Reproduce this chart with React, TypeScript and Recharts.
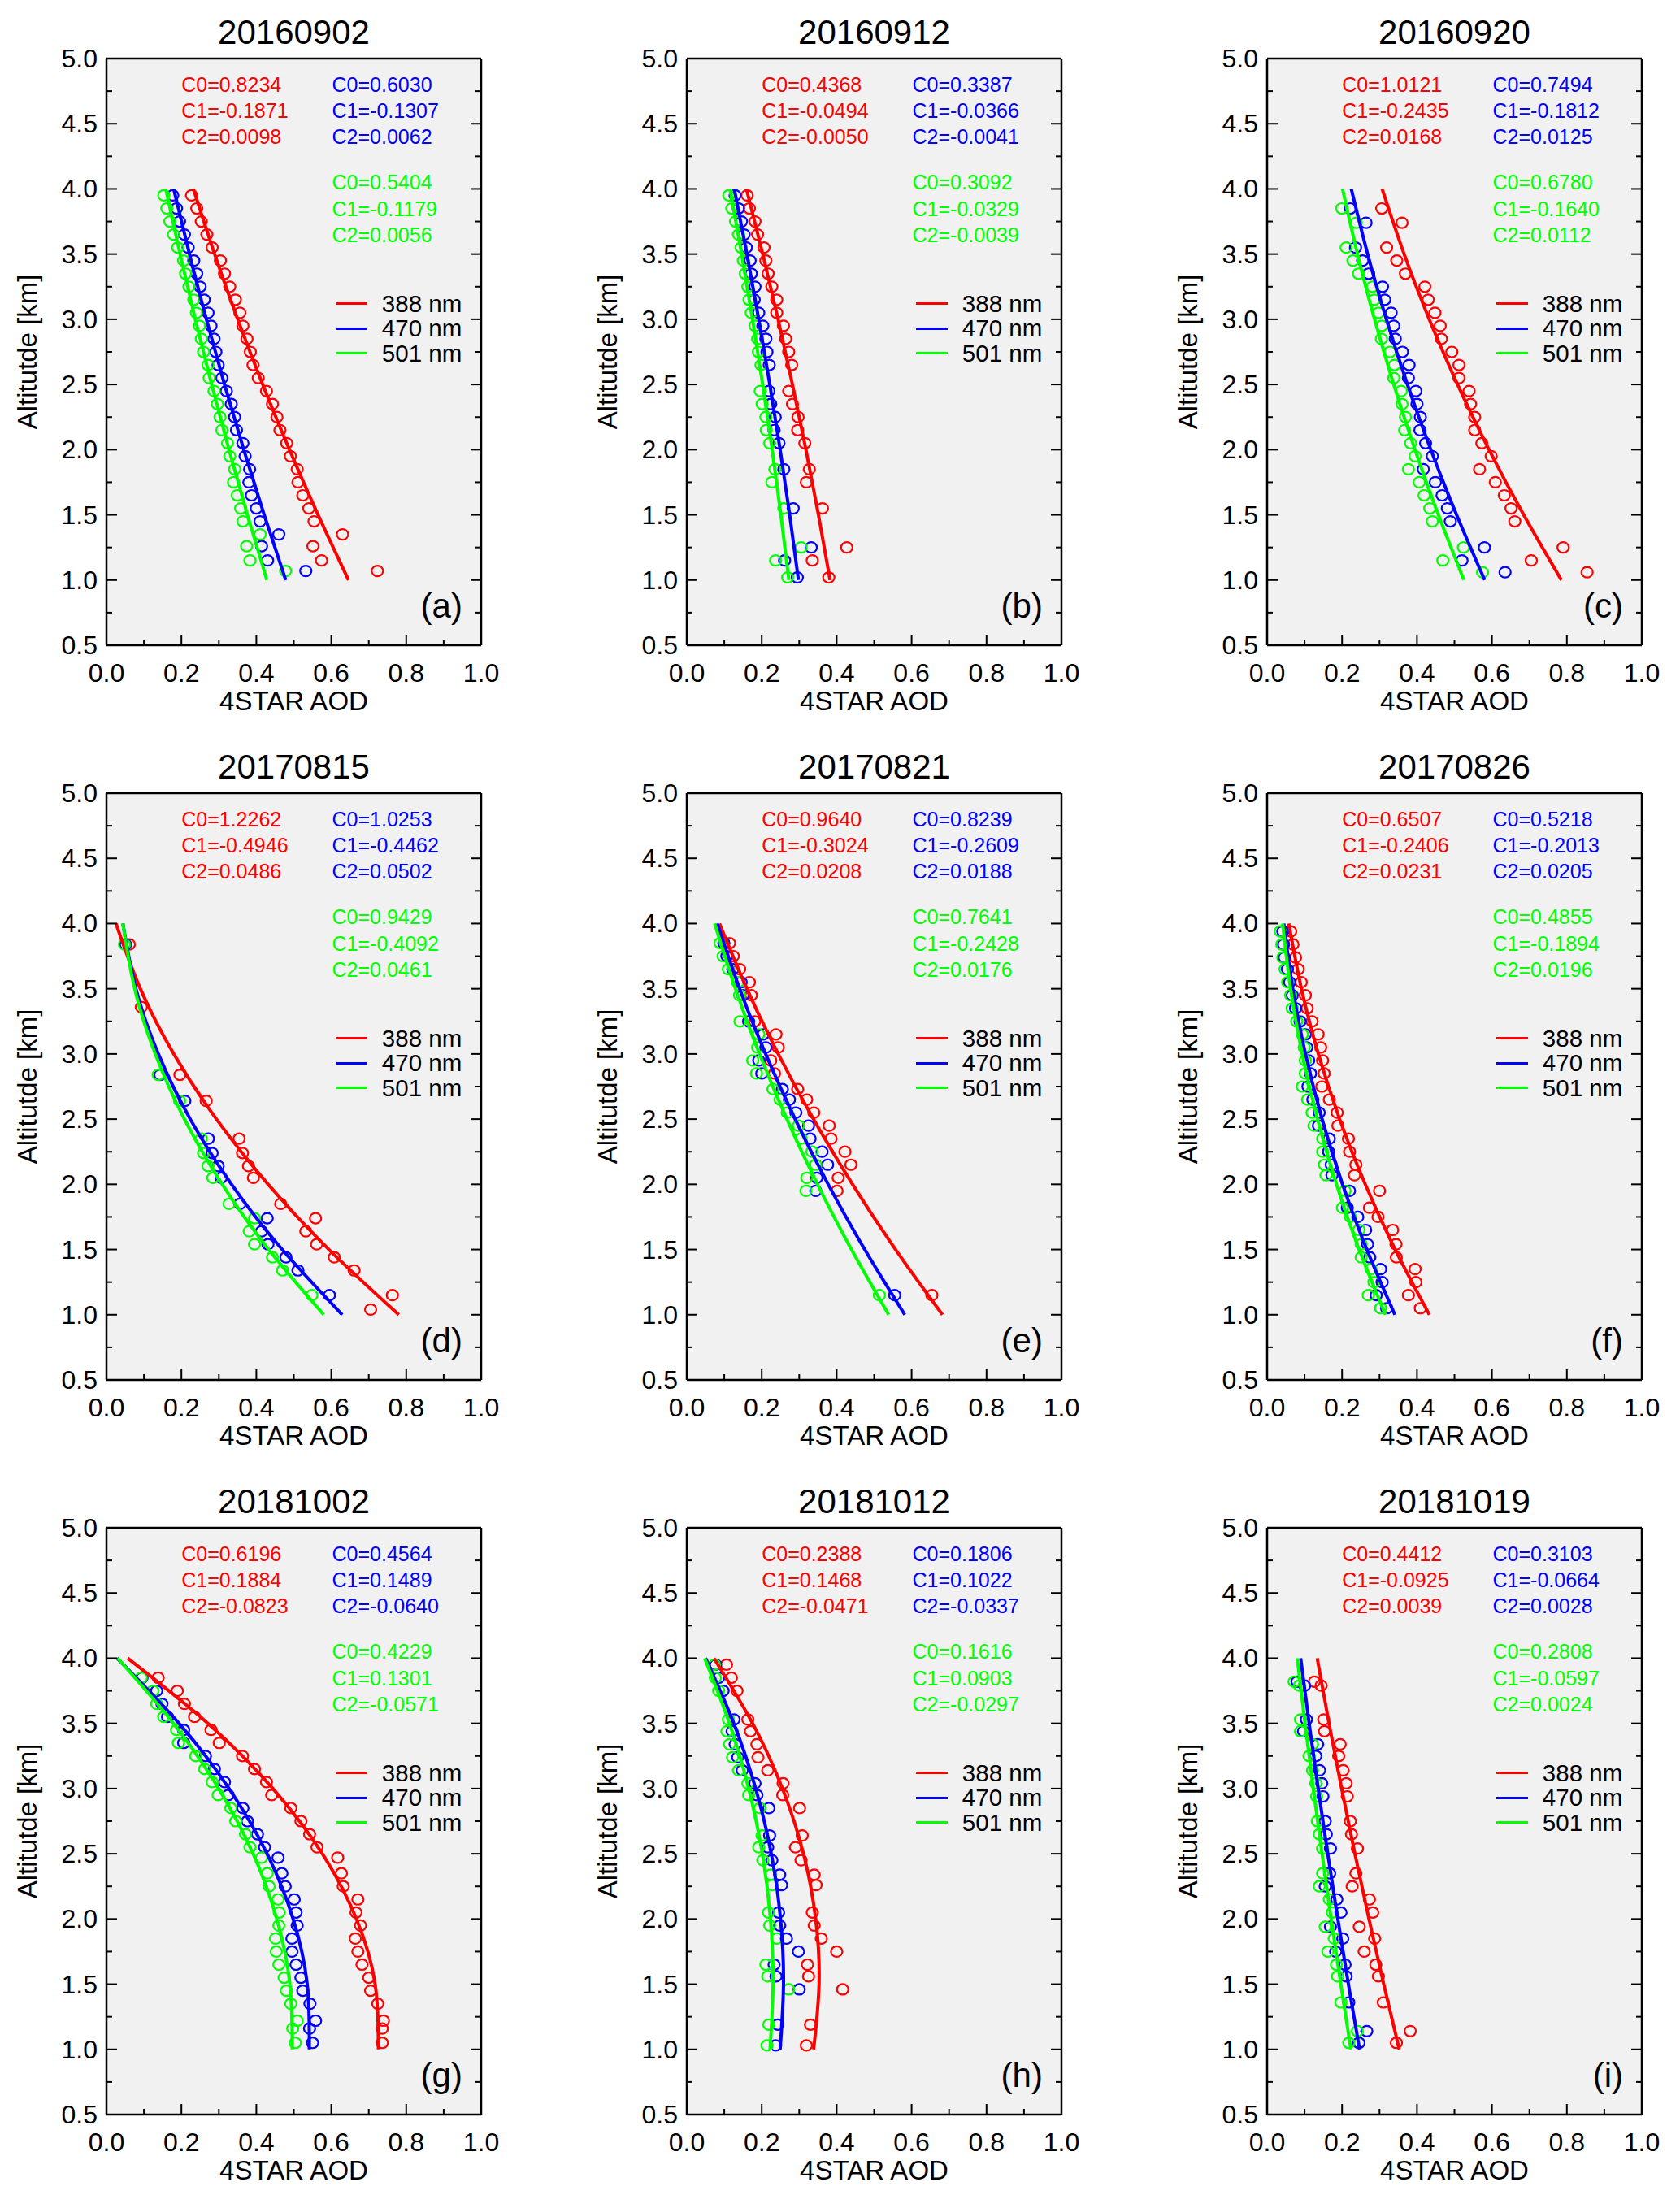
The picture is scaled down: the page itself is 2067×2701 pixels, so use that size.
import React from 'react';
import { ScatterChart, Scatter, XAxis, YAxis } from 'recharts';

const RED = '#ff0000';
const BLUE = '#0000ff';
const GREEN = '#00ff00';
const COLORS = [RED, BLUE, GREEN];

const DATES = ['20160902', '20160912', '20160920', '20170815', '20170821', '20170826', '20181002', '20181012', '20181019'];
const PANEL_TAGS = ['(a)', '(b)', '(c)', '(d)', '(e)', '(f)', '(g)', '(h)', '(i)'];
const BANDS = ['388 nm', '470 nm', '501 nm'];
const X_TICKS = [0, 0.1, 0.2, 0.3, 0.4, 0.5, 0.6, 0.7, 0.8, 0.9, 1.0];
const Y_TICKS = [0.5, 0.75, 1, 1.25, 1.5, 1.75, 2, 2.25, 2.5, 2.75, 3, 3.25, 3.5, 3.75, 4, 4.25, 4.5, 4.75, 5];
const FIT_ALT = [1.0, 1.5, 2.0, 2.5, 3.0, 3.5, 4.0];

// fit coefficients printed in each panel (C0, C1, C2)
const COEF_388 = [
  [0.8234, -0.1871, 0.0098], [0.4368, -0.0494, -0.0050], [1.0121, -0.2435, 0.0168],
  [1.2262, -0.4946, 0.0486], [0.9640, -0.3024, 0.0208], [0.6507, -0.2406, 0.0231],
  [0.6196, 0.1884, -0.0823], [0.2388, 0.1468, -0.0471], [0.4412, -0.0925, 0.0039],
];
const COEF_470 = [
  [0.6030, -0.1307, 0.0062], [0.3387, -0.0366, -0.0041], [0.7494, -0.1812, 0.0125],
  [1.0253, -0.4462, 0.0502], [0.8239, -0.2609, 0.0188], [0.5218, -0.2013, 0.0205],
  [0.4564, 0.1489, -0.0640], [0.1806, 0.1022, -0.0337], [0.3103, -0.0664, 0.0028],
];
const COEF_501 = [
  [0.5404, -0.1179, 0.0056], [0.3092, -0.0329, -0.0039], [0.6780, -0.1640, 0.0112],
  [0.9429, -0.4092, 0.0461], [0.7641, -0.2428, 0.0176], [0.4855, -0.1894, 0.0196],
  [0.4229, 0.1301, -0.0571], [0.1616, 0.0903, -0.0297], [0.2808, -0.0597, 0.0024],
];

// ---- observed profiles (altitude km, AOD per band) ----
const ALT_A = [3.95, 3.85, 3.75, 3.65, 3.55, 3.45, 3.35, 3.25, 3.15, 3.05, 2.95, 2.85, 2.75, 2.65, 2.55, 2.45, 2.35, 2.25, 2.15, 2.05, 1.95, 1.85, 1.75, 1.65, 1.55, 1.45, 1.35, 1.26, 1.15, 1.07];
const AOD388_A = [0.227, 0.241, 0.253, 0.268, 0.282, 0.304, 0.315, 0.329, 0.344, 0.356, 0.364, 0.375, 0.384, 0.391, 0.405, 0.427, 0.443, 0.455, 0.463, 0.481, 0.491, 0.509, 0.511, 0.524, 0.540, 0.554, 0.630, 0.551, 0.574, 0.723];
const AOD470_A = [0.177, 0.187, 0.195, 0.208, 0.218, 0.233, 0.241, 0.250, 0.261, 0.271, 0.279, 0.287, 0.292, 0.298, 0.308, 0.320, 0.333, 0.342, 0.347, 0.364, 0.370, 0.382, 0.380, 0.387, 0.400, 0.410, 0.460, 0.414, 0.430, 0.532];
const AOD501_A = [0.153, 0.161, 0.169, 0.179, 0.190, 0.206, 0.211, 0.220, 0.233, 0.240, 0.248, 0.253, 0.259, 0.271, 0.274, 0.287, 0.296, 0.303, 0.308, 0.323, 0.329, 0.342, 0.339, 0.349, 0.358, 0.364, 0.410, 0.374, 0.383, 0.478];

const ALT_B = [3.95, 3.85, 3.75, 3.65, 3.55, 3.45, 3.35, 3.25, 3.15, 3.05, 2.95, 2.85, 2.75, 2.65, 2.45, 2.35, 2.25, 2.15, 2.05, 1.85, 1.75, 1.55, 1.25, 1.15, 1.02];
const AOD388_B = [0.161, 0.167, 0.182, 0.189, 0.206, 0.211, 0.217, 0.227, 0.240, 0.240, 0.258, 0.264, 0.272, 0.280, 0.272, 0.282, 0.297, 0.296, 0.315, 0.327, 0.319, 0.362, 0.427, 0.335, 0.379];
const AOD470_B = [0.129, 0.138, 0.146, 0.153, 0.159, 0.169, 0.172, 0.182, 0.180, 0.192, 0.203, 0.211, 0.214, 0.220, 0.219, 0.224, 0.236, 0.233, 0.246, 0.259, null, 0.284, 0.332, 0.261, 0.295];
const AOD501_B = [0.112, 0.120, 0.130, 0.138, 0.145, 0.151, 0.156, 0.163, 0.166, 0.172, 0.182, 0.189, 0.191, 0.198, 0.196, 0.201, 0.211, 0.212, 0.221, 0.235, 0.227, 0.259, 0.305, 0.237, 0.269];

const ALT_C = [3.85, 3.74, 3.55, 3.45, 3.35, 3.25, 3.15, 3.05, 2.95, 2.85, 2.75, 2.65, 2.55, 2.45, 2.35, 2.25, 2.15, 2.05, 1.95, 1.85, 1.75, 1.65, 1.55, 1.45, 1.25, 1.15, 1.06];
const AOD388_C = [0.306, 0.360, 0.319, 0.346, 0.369, 0.421, 0.430, 0.448, 0.462, 0.465, 0.493, 0.512, 0.512, 0.539, 0.543, 0.554, 0.554, 0.573, 0.598, 0.567, 0.609, 0.633, 0.651, 0.661, 0.790, 0.705, 0.854];
const AOD470_C = [0.222, 0.264, 0.236, 0.255, 0.271, 0.308, 0.314, 0.331, 0.338, 0.342, 0.361, 0.379, 0.377, 0.397, 0.400, 0.409, 0.408, 0.423, 0.441, 0.417, 0.449, 0.467, 0.481, 0.489, 0.580, 0.520, 0.635];
const AOD501_C = [0.199, 0.238, 0.211, 0.229, 0.244, 0.281, 0.286, 0.297, 0.306, 0.305, 0.328, 0.340, 0.338, 0.358, 0.360, 0.369, 0.367, 0.383, 0.395, 0.377, 0.406, 0.419, 0.434, 0.441, 0.524, 0.469, 0.575];

const ALT_D = [3.84, 3.36, 2.84, 2.64, 2.35, 2.24, 2.14, 2.05, 1.85, 1.74, 1.64, 1.54, 1.44, 1.34, 1.15, 1.04];
const AOD388_D = [0.061, 0.093, 0.196, 0.266, 0.354, 0.363, 0.379, 0.392, 0.465, 0.558, 0.532, 0.561, 0.608, 0.661, 0.763, 0.705];
const AOD470_D = [0.051, null, 0.143, 0.209, 0.272, 0.282, 0.298, 0.306, 0.356, 0.429, 0.414, 0.431, 0.479, 0.511, 0.595, null];
const AOD501_D = [0.048, null, 0.138, 0.195, 0.253, 0.259, 0.271, 0.284, 0.327, 0.395, 0.381, 0.395, 0.443, 0.470, 0.548, null];

const ALT_E = [3.85, 3.75, 3.65, 3.55, 3.45, 3.25, 3.15, 3.05, 2.95, 2.85, 2.73, 2.65, 2.55, 2.45, 2.35, 2.25, 2.15, 2.05, 1.95, 1.15];
const AOD388_E = [0.114, 0.124, 0.141, 0.167, 0.172, 0.181, 0.238, 0.244, 0.224, 0.234, 0.296, 0.320, 0.339, 0.380, 0.385, 0.422, 0.438, 0.404, 0.401, 0.654];
const AOD470_E = [0.099, 0.107, 0.123, 0.145, 0.150, 0.165, 0.204, 0.211, 0.192, 0.200, 0.255, 0.274, 0.291, 0.325, 0.329, 0.361, 0.376, 0.347, 0.344, 0.555];
const AOD501_E = [0.089, 0.097, 0.111, 0.136, 0.141, 0.142, 0.192, 0.189, 0.176, 0.186, 0.230, 0.249, 0.268, 0.298, 0.305, 0.334, 0.344, 0.320, 0.318, 0.514];

const ALT_F = [3.94, 3.84, 3.74, 3.65, 3.55, 3.45, 3.35, 3.25, 3.15, 3.05, 2.95, 2.85, 2.75, 2.65, 2.55, 2.45, 2.35, 2.25, 2.15, 2.07, 1.95, 1.82, 1.75, 1.65, 1.54, 1.44, 1.35, 1.25, 1.15, 1.05];
const AOD388_F = [0.063, 0.069, 0.076, 0.083, 0.091, 0.102, 0.107, 0.120, 0.136, 0.143, 0.148, 0.152, 0.146, 0.166, 0.187, 0.189, 0.217, 0.220, 0.237, 0.233, 0.300, 0.273, 0.296, 0.335, 0.344, 0.345, 0.395, 0.397, 0.377, 0.409];
const AOD470_F = [0.042, 0.044, 0.046, 0.054, 0.060, 0.067, 0.076, 0.088, 0.102, 0.106, 0.111, 0.116, 0.109, 0.122, 0.139, 0.137, 0.166, 0.164, 0.171, 0.173, 0.220, 0.214, 0.242, 0.263, 0.268, 0.274, 0.303, 0.307, 0.291, 0.319];
const AOD501_F = [0.035, 0.039, 0.042, 0.048, 0.055, 0.063, 0.067, 0.079, 0.094, 0.099, 0.102, 0.102, 0.094, 0.108, 0.120, 0.125, 0.148, 0.148, 0.153, 0.157, 0.208, 0.201, 0.222, 0.245, 0.251, 0.251, 0.277, 0.285, 0.270, 0.303];

const ALT_G = [3.85, 3.75, 3.65, 3.55, 3.45, 3.35, 3.25, 3.15, 3.05, 2.95, 2.85, 2.75, 2.65, 2.55, 2.47, 2.35, 2.25, 2.15, 2.05, 1.95, 1.85, 1.75, 1.65, 1.55, 1.45, 1.35, 1.22, 1.16, 1.05];
const AOD388_G = [0.138, 0.189, 0.208, 0.235, 0.279, 0.301, 0.363, 0.395, 0.427, 0.441, 0.492, 0.519, 0.542, 0.562, 0.617, 0.627, 0.632, 0.671, 0.666, 0.678, 0.664, 0.671, 0.682, 0.700, 0.705, 0.724, 0.739, 0.736, 0.736];
const AOD470_G = [0.095, 0.134, 0.148, 0.163, 0.206, 0.206, 0.264, 0.288, 0.315, 0.325, 0.364, 0.376, 0.403, 0.422, 0.458, 0.468, 0.477, 0.501, 0.506, 0.509, 0.495, 0.495, 0.506, 0.519, 0.524, 0.543, 0.558, 0.542, 0.550];
const AOD501_G = [0.093, 0.124, 0.134, 0.153, 0.187, 0.192, 0.238, 0.262, 0.282, 0.298, 0.332, 0.345, 0.371, 0.383, 0.414, 0.429, 0.434, 0.458, 0.461, 0.460, 0.451, 0.453, 0.460, 0.474, 0.480, 0.492, 0.509, 0.497, 0.504];

const ALT_H = [3.95, 3.85, 3.75, 3.53, 3.44, 3.34, 3.24, 3.14, 3.04, 2.95, 2.85, 2.64, 2.55, 2.45, 2.34, 2.26, 2.05, 1.95, 1.85, 1.75, 1.65, 1.56, 1.46, 1.19, 1.03];
const AOD388_H = [0.106, 0.119, 0.134, 0.163, 0.170, 0.187, 0.190, 0.216, 0.257, 0.256, 0.301, 0.308, 0.290, 0.305, 0.340, 0.345, 0.335, 0.340, 0.359, 0.400, 0.322, 0.325, 0.416, 0.330, 0.319];
const AOD470_H = [0.077, 0.085, 0.097, 0.126, 0.121, 0.129, 0.136, 0.148, 0.182, 0.187, 0.219, 0.221, 0.216, 0.227, 0.248, 0.253, 0.245, 0.248, 0.266, 0.298, 0.233, 0.238, 0.300, 0.243, 0.237];
const AOD501_H = [0.074, 0.076, 0.085, 0.111, 0.107, 0.114, 0.122, 0.138, 0.163, 0.165, 0.195, 0.201, 0.192, 0.203, 0.224, 0.228, 0.218, 0.221, 0.240, null, 0.211, 0.216, 0.272, 0.219, 0.214];

const ALT_I = [3.82, 3.79, 3.53, 3.44, 3.34, 3.25, 3.14, 3.04, 2.94, 2.75, 2.65, 2.54, 2.35, 2.25, 2.15, 2.05, 1.94, 1.85, 1.75, 1.65, 1.56, 1.36, 1.14, 1.05];
const AOD388_I = [0.126, 0.144, 0.151, 0.153, 0.195, 0.191, 0.203, 0.211, 0.214, 0.222, 0.225, 0.241, 0.237, 0.227, 0.273, 0.282, 0.246, 0.287, 0.259, 0.290, 0.297, 0.310, 0.382, 0.345];
const AOD470_I = [0.080, 0.100, 0.105, 0.097, 0.135, 0.130, 0.140, 0.146, 0.149, 0.155, 0.158, 0.169, 0.167, 0.155, 0.186, 0.197, 0.169, 0.202, 0.183, 0.208, 0.211, 0.218, 0.266, 0.245];
const AOD501_I = [0.072, 0.086, 0.089, 0.089, 0.121, 0.112, 0.121, 0.130, 0.132, 0.134, 0.139, 0.148, 0.148, 0.139, 0.166, 0.174, 0.155, 0.179, 0.162, 0.185, 0.188, 0.197, 0.241, 0.218];

// ---- fitted curves, AOD at FIT_ALT ----
const FIT388_A = [0.6461, 0.5648, 0.4884, 0.4169, 0.3503, 0.2886, 0.2320];
const FIT470_A = [0.4785, 0.4210, 0.3664, 0.3150, 0.2667, 0.2215, 0.1794];
const FIT501_A = [0.4281, 0.3762, 0.3270, 0.2807, 0.2371, 0.1964, 0.1584];
const FIT388_B = [0.3824, 0.3514, 0.3180, 0.2820, 0.2436, 0.2027, 0.1592];
const FIT470_B = [0.2980, 0.2746, 0.2491, 0.2216, 0.1920, 0.1604, 0.1267];
const FIT501_B = [0.2724, 0.2511, 0.2278, 0.2026, 0.1754, 0.1463, 0.1152];
const FIT388_C = [0.7854, 0.6847, 0.5923, 0.5084, 0.4328, 0.3657, 0.3069];
const FIT470_C = [0.5807, 0.5057, 0.4370, 0.3745, 0.3183, 0.2683, 0.2246];
const FIT501_C = [0.5252, 0.4572, 0.3948, 0.3380, 0.2868, 0.2412, 0.2012];
const FIT388_D = [0.7802, 0.5937, 0.4314, 0.2935, 0.1798, 0.0905, 0.0254];
const FIT470_D = [0.6293, 0.4690, 0.3337, 0.2236, 0.1385, 0.0786, 0.0437];
const FIT501_D = [0.5798, 0.4328, 0.3089, 0.2080, 0.1302, 0.0754, 0.0437];
const FIT388_E = [0.6824, 0.5572, 0.4424, 0.3380, 0.2440, 0.1604, 0.0872];
const FIT470_E = [0.5818, 0.4749, 0.3773, 0.2892, 0.2104, 0.1410, 0.0811];
const FIT501_E = [0.5389, 0.4395, 0.3489, 0.2671, 0.1941, 0.1299, 0.0745];
const FIT388_F = [0.4332, 0.3418, 0.2619, 0.1936, 0.1368, 0.0916, 0.0579];
const FIT470_F = [0.3410, 0.2660, 0.2012, 0.1467, 0.1024, 0.0684, 0.0446];
const FIT501_F = [0.3157, 0.2455, 0.1851, 0.1345, 0.0937, 0.0627, 0.0415];
const FIT388_G = [0.7257, 0.7170, 0.6672, 0.5762, 0.4441, 0.2708, 0.0564];
const FIT470_G = [0.5413, 0.5358, 0.4982, 0.4287, 0.3271, 0.1936, 0.0280];
const FIT501_G = [0.4959, 0.4896, 0.4547, 0.3913, 0.2993, 0.1788, 0.0297];
const FIT388_H = [0.3385, 0.3530, 0.3440, 0.3114, 0.2553, 0.1756, 0.0724];
const FIT470_H = [0.2491, 0.2581, 0.2502, 0.2255, 0.1839, 0.1255, 0.0502];
const FIT501_H = [0.2222, 0.2302, 0.2234, 0.2017, 0.1652, 0.1138, 0.0476];
const FIT388_I = [0.3526, 0.3112, 0.2718, 0.2343, 0.1988, 0.1652, 0.1336];
const FIT470_I = [0.2467, 0.2170, 0.1887, 0.1618, 0.1363, 0.1122, 0.0895];
const FIT501_I = [0.2235, 0.1967, 0.1710, 0.1466, 0.1233, 0.1013, 0.0804];

const PANELS = [
  { alt: ALT_A, obs: [AOD388_A, AOD470_A, AOD501_A], fit: [FIT388_A, FIT470_A, FIT501_A] },
  { alt: ALT_B, obs: [AOD388_B, AOD470_B, AOD501_B], fit: [FIT388_B, FIT470_B, FIT501_B] },
  { alt: ALT_C, obs: [AOD388_C, AOD470_C, AOD501_C], fit: [FIT388_C, FIT470_C, FIT501_C] },
  { alt: ALT_D, obs: [AOD388_D, AOD470_D, AOD501_D], fit: [FIT388_D, FIT470_D, FIT501_D] },
  { alt: ALT_E, obs: [AOD388_E, AOD470_E, AOD501_E], fit: [FIT388_E, FIT470_E, FIT501_E] },
  { alt: ALT_F, obs: [AOD388_F, AOD470_F, AOD501_F], fit: [FIT388_F, FIT470_F, FIT501_F] },
  { alt: ALT_G, obs: [AOD388_G, AOD470_G, AOD501_G], fit: [FIT388_G, FIT470_G, FIT501_G] },
  { alt: ALT_H, obs: [AOD388_H, AOD470_H, AOD501_H], fit: [FIT388_H, FIT470_H, FIT501_H] },
  { alt: ALT_I, obs: [AOD388_I, AOD470_I, AOD501_I], fit: [FIT388_I, FIT470_I, FIT501_I] },
];

// layout (px)
const COL_X = [131, 845, 1559];
const ROW_Y = [72, 976, 1880];
const PLOT_W = 461;
const PLOT_H = 722;
const ML = 140, MR = 40, MT = 60, MB = 100;
// space handed to each axis (taken out of the margins so the plot box stays put)
const AX_L = 100, AX_R = 20, AX_T = 20, AX_B = 60;
const FONT = '"Liberation Sans", Arial, Helvetica, sans-serif';

const xPx = (v: number) => v * PLOT_W;
const yPx = (alt: number) => ((5 - alt) / 4.5) * PLOT_H;

const toPoints = (alt: number[], aod: (number | null)[]) =>
  alt.map((a, i) => (aod[i] == null ? null : { x: aod[i], y: a })).filter(Boolean) as { x: number; y: number }[];

const majorX = (v: number) => Math.abs(v * 5 - Math.round(v * 5)) < 1e-6;
const majorY = (v: number) => Math.abs(v * 2 - Math.round(v * 2)) < 1e-6;

const XTick = (props: any) => {
  const { x, payload, side } = props;
  const v = payload.value;
  const len = majorX(v) ? 13 : 7;
  const y0 = side === 'bottom' ? MT + PLOT_H : MT;
  const dir = side === 'bottom' ? -1 : 1;
  return (
    <g>
      <line x1={x} y1={y0} x2={x} y2={y0 + dir * len} stroke="#000" strokeWidth={2} />
      {side === 'bottom' && majorX(v) && (
        <text x={x} y={y0 + 34} textAnchor="middle" dominantBaseline="central" fontSize={32} fontFamily={FONT} fill="#000">
          {v.toFixed(1)}
        </text>
      )}
    </g>
  );
};

const YTick = (props: any) => {
  const { y, payload, side } = props;
  const v = payload.value;
  const len = majorY(v) ? 13 : 7;
  const x0 = side === 'left' ? ML : ML + PLOT_W;
  const dir = side === 'left' ? 1 : -1;
  return (
    <g>
      <line x1={x0} y1={y} x2={x0 + dir * len} y2={y} stroke="#000" strokeWidth={2} />
      {side === 'left' && majorY(v) && (
        <text x={x0 - 11} y={y} textAnchor="end" dominantBaseline="central" fontSize={32} fontFamily={FONT} fill="#000">
          {v.toFixed(1)}
        </text>
      )}
    </g>
  );
};

const circleShape = (color: string) => (p: any) =>
  <ellipse cx={p.cx} cy={p.cy} rx={7} ry={6.5} fill="none" stroke={color} strokeWidth={2.2} />;

const noShape = () => <g />;

const coefLines = (c: number[]) => c.map((v, k) => `C${k}=${v.toFixed(4)}`);

function Panel({ idx }: { idx: number }) {
  const p = PANELS[idx];
  const left = COL_X[idx % 3];
  const top = ROW_Y[Math.floor(idx / 3)];
  const axisLine = { stroke: '#000', strokeWidth: 2.5 };
  const coefBlocks = [
    { lines: coefLines(COEF_388[idx]), color: RED, x: 0.2, alts: [4.8, 4.6, 4.4] },
    { lines: coefLines(COEF_470[idx]), color: BLUE, x: 0.602, alts: [4.8, 4.6, 4.4] },
    { lines: coefLines(COEF_501[idx]), color: GREEN, x: 0.602, alts: [4.05, 3.85, 3.65] },
  ];
  const legendAlts = [3.12, 2.93, 2.74];

  return (
    <div style={{ position: 'absolute', left, top, width: PLOT_W, height: PLOT_H }}>
      <div style={{ position: 'absolute', left: 0, top: 0, width: PLOT_W, height: PLOT_H, background: '#f1f1f1' }} />
      <div style={{ position: 'absolute', left: -ML, top: -MT }}>
        <ScatterChart width={ML + PLOT_W + MR} height={MT + PLOT_H + MB}
          margin={{ top: MT - AX_T, right: MR - AX_R, bottom: MB - AX_B, left: ML - AX_L }}>
          <XAxis type="number" dataKey="x" domain={[0, 1]} ticks={X_TICKS} interval={0} height={AX_B}
            tickSize={0} tickMargin={0} axisLine={axisLine} tickLine={false} allowDataOverflow
            tick={(t: any) => <XTick {...t} side="bottom" />} />
          <XAxis xAxisId="top" orientation="top" type="number" domain={[0, 1]} ticks={X_TICKS} interval={0} height={AX_T}
            tickSize={0} tickMargin={0} axisLine={axisLine} tickLine={false} allowDataOverflow
            tick={(t: any) => <XTick {...t} side="top" />} />
          <YAxis type="number" dataKey="y" domain={[0.5, 5]} ticks={Y_TICKS} interval={0} width={AX_L}
            tickSize={0} tickMargin={0} axisLine={axisLine} tickLine={false} allowDataOverflow
            tick={(t: any) => <YTick {...t} side="left" />} />
          <YAxis yAxisId="right" orientation="right" type="number" domain={[0.5, 5]} ticks={Y_TICKS} interval={0} width={AX_R}
            tickSize={0} tickMargin={0} axisLine={axisLine} tickLine={false} allowDataOverflow
            tick={(t: any) => <YTick {...t} side="right" />} />
          {COLORS.map((c, k) => (
            <Scatter key={`obs-${k}`} data={toPoints(p.alt, p.obs[k])} shape={circleShape(c)} isAnimationActive={false} />
          ))}
          {COLORS.map((c, k) => (
            <Scatter key={`fit-${k}`} data={toPoints(FIT_ALT, p.fit[k])} shape={noShape}
              line={{ stroke: c, strokeWidth: 4 }} lineJointType="natural" isAnimationActive={false} />
          ))}
        </ScatterChart>
      </div>

      {/* title */}
      <div style={{ position: 'absolute', left: PLOT_W / 2, top: -32, transform: 'translate(-50%,-50%)', fontSize: 42, whiteSpace: 'nowrap' }}>
        {DATES[idx]}
      </div>
      {/* axis titles */}
      <div style={{ position: 'absolute', left: PLOT_W / 2, top: PLOT_H + 69, transform: 'translate(-50%,-50%)', fontSize: 33, whiteSpace: 'nowrap' }}>
        4STAR AOD
      </div>
      <div style={{ position: 'absolute', left: -97, top: PLOT_H / 2, transform: 'translate(-50%,-50%) rotate(-90deg)', fontSize: 33, whiteSpace: 'nowrap' }}>
        Altitutde [km]
      </div>

      {/* coefficients */}
      {coefBlocks.map((b, bi) =>
        b.lines.map((s, li) => (
          <div key={`c${bi}-${li}`} style={{ position: 'absolute', left: xPx(b.x), top: yPx(b.alts[li]), transform: 'translateY(-50%)', fontSize: 25, color: b.color, whiteSpace: 'nowrap', lineHeight: 1 }}>
            {s}
          </div>
        ))
      )}

      {/* legend */}
      {BANDS.map((name, k) => (
        <React.Fragment key={`lg${k}`}>
          <div style={{ position: 'absolute', left: xPx(0.611), top: yPx(legendAlts[k]) - 1.5, width: xPx(0.085), height: 3, background: COLORS[k] }} />
          <div style={{ position: 'absolute', left: xPx(0.735), top: yPx(legendAlts[k]), transform: 'translateY(-50%)', fontSize: 29.5, lineHeight: 1, whiteSpace: 'nowrap' }}>
            {name}
          </div>
        </React.Fragment>
      ))}

      {/* panel tag */}
      <div style={{ position: 'absolute', right: PLOT_W - xPx(0.95), top: yPx(0.8), transform: 'translateY(-50%)', fontSize: 42, lineHeight: 1 }}>
        {PANEL_TAGS[idx]}
      </div>
    </div>
  );
}

export default function App() {
  return (
    <div style={{ position: 'absolute', left: 0, top: 0, width: 2067, height: 2701, background: '#fff', fontFamily: FONT, color: '#000', overflow: 'hidden' }}>
      {PANELS.map((_, i) => (
        <Panel key={DATES[i]} idx={i} />
      ))}
    </div>
  );
}
